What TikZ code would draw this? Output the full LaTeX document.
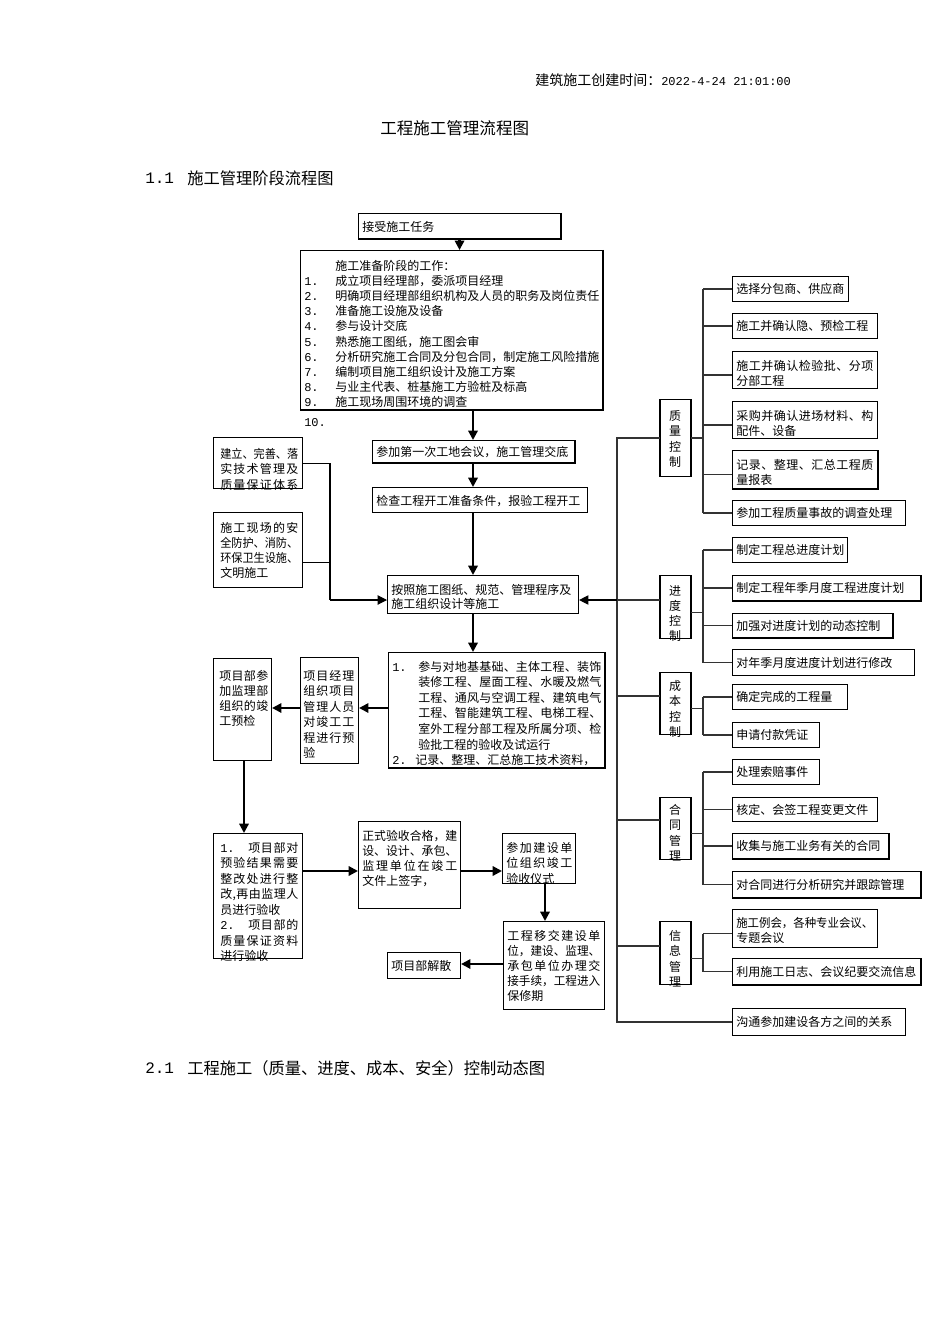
\documentclass[tikz,border=0pt]{standalone}
\usepackage{fontspec}
\usepackage{graphicx}
\setmainfont{Noto Sans CJK SC}
\newfontfamily\mono{Liberation Mono}
\usetikzlibrary{arrows.meta,calc}
\newdimen\pxu \pxu=0.75pt
\newsavebox\sprbox
\def\sprloop#1#2{#1\ifx\relax#2\else\hfill\expandafter\sprloop\expandafter#2\fi}
\newcommand\sprd[2]{\sbox\sprbox{#2}\ifdim\wd\sprbox>#1\pxu\relax\resizebox{#1\pxu}{\height}{\usebox\sprbox}\else\makebox[#1\pxu][s]{\sprloop#2\relax}\fi}
\newcommand\fsz{\fontsize{9pt}{11pt}\selectfont}
\newcommand\mkbox[5]{\node[bx, minimum width={(#4-#2)*0.75pt}, minimum height={(#5-#3)*0.75pt}] (#1) at (#2,#3) {};}
\newcommand\txl[6][]{\foreach \tline [count=\tidx from 0] in {#6}{\node[tx,#1] (#2-\tidx) at (#3,{#4+\tidx*#5}) {\tline};}}
\newcommand\vtx[4]{\foreach \tline [count=\tidx from 0] in {#4}{\node[tx,anchor=center] (#1-\tidx) at (675,{#2+\tidx*#3}) {\tline};}}
\newcommand\shd[1]{\draw[shd] (#1.north east) -- (#1.south east) -- (#1.south west);}
\newcommand\sides[1]{\draw[shd] (#1.north east) -- (#1.south east); \draw[shd] (#1.north west) -- (#1.south west);}
\begin{document}
\begin{tikzpicture}[x=0.75pt,y=-0.75pt,
  bx/.style={draw=black, line width=0.8pt, inner sep=0pt, anchor=north west, fill=white},
  tx/.style={inner sep=0pt, anchor=west, text height=0.88em, text depth=0.12em, font=\fsz},
  num/.style={font=\fsz\mono},
  arr/.style={line width=1.6pt, -{Triangle[length=7pt,width=7pt]}},
  tarr/.style={line width=0.8pt, -{Triangle[length=7pt,width=7pt]}},
  tline/.style={line width=0.8pt},
  tree/.style={line width=0.9pt, draw=black!80},
  shd/.style={line width=1.8pt}]
\useasboundingbox (0,0) rectangle (950,1344);
\fill[white] (0,0) rectangle (950,1344);

% headings
\node[inner sep=0pt, anchor=west, font=\fontsize{10.5pt}{12pt}\selectfont] (hdr) at (535,80) {建筑施工创建时间：{\mono\fontsize{9pt}{10pt}\selectfont 2022-4-24 21:01:00}};
\node[inner sep=0pt, anchor=west, font=\fontsize{12.4pt}{14pt}\selectfont] (title) at (380,128) {工程施工管理流程图};
\node[inner sep=0pt, anchor=west, font=\mono\fontsize{12pt}{14pt}\selectfont] (s11) at (145,178) {1.1};
\node[inner sep=0pt, anchor=west, font=\fontsize{12.2pt}{14pt}\selectfont] (s11t) at (187,178) {施工管理阶段流程图};
\node[inner sep=0pt, anchor=west, font=\mono\fontsize{12pt}{14pt}\selectfont] (s21) at (145,1068) {2.1};
\node[inner sep=0pt, anchor=west, font=\fontsize{12.2pt}{14pt}\selectfont] (s21t) at (187,1068) {工程施工（质量、进度、成本、安全）控制动态图};

% middle boxes
\mkbox{A}{358}{213}{560}{238}
\mkbox{B}{300}{250}{602}{409}
\mkbox{C}{372}{440}{574}{462}
\mkbox{D}{372}{487}{587}{512}
\mkbox{E}{387}{575}{578}{613}
\mkbox{L1}{213}{437}{302}{488}
\mkbox{L2}{213}{512}{302}{587}
\mkbox{F}{388}{652}{604}{767}
\mkbox{G}{300}{657}{358}{763}
\mkbox{H}{213}{658}{271}{760}
\mkbox{I}{213}{833}{302}{958}
\mkbox{J}{358}{821}{460}{908}
\mkbox{K}{502}{833}{575}{883}
\mkbox{M}{503}{921}{604}{1009}
\mkbox{N}{387}{952}{460}{978}

% right boxes
\mkbox{Q}{660}{399}{690}{476}
\mkbox{P}{660}{575}{690}{638}
\mkbox{Cb}{660}{672}{690}{734}
\mkbox{Hc}{660}{797}{690}{859}
\mkbox{If}{660}{921}{690}{984}
\mkbox{q1}{732}{276}{848}{301}
\mkbox{q2}{732}{313}{877}{338}
\mkbox{q3}{732}{351}{877}{388}
\mkbox{q4}{732}{401}{877}{438}
\mkbox{q5}{732}{450}{877}{488}
\mkbox{q6}{732}{500}{905}{525}
\mkbox{p1}{732}{537}{847}{562}
\mkbox{p2}{732}{575}{920}{600}
\mkbox{p3}{732}{613}{892}{637}
\mkbox{p4}{732}{649}{914}{675}
\mkbox{c1}{732}{684}{847}{709}
\mkbox{c2}{732}{722}{819}{747}
\mkbox{h1}{732}{759}{819}{784}
\mkbox{h2}{732}{797}{877}{821}
\mkbox{h3}{732}{833}{888}{858}
\mkbox{h4}{732}{871}{920}{897}
\mkbox{i1}{732}{909}{877}{947}
\mkbox{i2}{732}{958}{920}{984}
\mkbox{g}{732}{1008}{905}{1035}

\foreach \n in {A,B,C,F,p2,p3,h3,h4,i2,q5} {\shd{\n}}
\foreach \n in {Q,P,Cb,Hc,If} {\sides{\n}}

% texts middle
\txl{At}{362}{226}{0}{接受施工任务}
\txl{Bt}{335}{265.5}{15.1}{施工准备阶段的工作：, 成立项目经理部，委派项目经理, 明确项目经理部组织机构及人员的职务及岗位责任, 准备施工设施及设备, 参与设计交底, 熟悉施工图纸，施工图会审, 分析研究施工合同及分包合同，制定施工风险措施, 编制项目施工组织设计及施工方案, 与业主代表、桩基施工方验桩及标高, 施工现场周围环境的调查}
\txl[num]{Bn}{304}{280.6}{15.1}{1.,2.,3.,4.,5.,6.,7.,8.,9.}
\node[tx,num] (B10) at (304,421) {10.};
\txl{Ct}{376}{451}{0}{参加第一次工地会议，施工管理交底}
\txl{Dt}{376}{500}{0}{检查工程开工准备条件，报验工程开工}
\txl{Et}{391}{589}{14}{按照施工图纸、规范、管理程序及, 施工组织设计等施工}
\txl{L1t}{220}{453}{15.5}{\sprd{78}{建立、完善、落}, \sprd{78}{实技术管理及}, \sprd{78}{质量保证体系}}
\txl{L2t}{220}{527}{15.3}{\sprd{78}{施工现场的安}, \sprd{78}{全防护、消防、}, \sprd{78}{环保卫生设施、}, 文明施工}
\node[tx,num] (Fn1) at (392,666) {1.};
\txl{Ft}{418}{666}{15.6}{\sprd{183}{参与对地基基础、主体工程、装饰}, \sprd{183}{装修工程、屋面工程、水暖及燃气}, \sprd{183}{工程、通风与空调工程、建筑电气}, \sprd{183}{工程、智能建筑工程、电梯工程、}, \sprd{183}{室外工程分部工程及所属分项、检}, 验批工程的验收及试运行}
\node[tx,num] (Fn2) at (392,759.6) {2.};
\node[tx] (Ft2) at (415,759.6) {记录、整理、汇总施工技术资料，};
\txl{Gt}{303}{675}{15.5}{\sprd{51}{项目经理}, \sprd{51}{组织项目}, \sprd{51}{管理人员}, \sprd{51}{对竣工工}, \sprd{51}{程进行预}, 验}
\txl{Ht}{219}{675}{15.3}{\sprd{49}{项目部参}, \sprd{49}{加监理部}, \sprd{49}{组织的竣}, 工预检}
\txl{It}{220}{847}{15.5}{\makebox[78\pxu]{{\mono 1.}\hfill\sprd{50}{项目部对}}, \sprd{78}{预验结果需要}, \sprd{78}{整改处进行整}, \sprd{78}{改,再由监理人}, 员进行验收, \makebox[78\pxu]{{\mono 2.}\hfill\sprd{50}{项目部的}}, \sprd{78}{质量保证资料}, 进行验收}
\txl{Jt}{362}{835}{15}{\sprd{95}{正式验收合格，建}, \sprd{95}{设、设计、承包、}, \sprd{95}{监理单位在竣工}, 文件上签字，}
\txl{Kt}{506}{847}{15.5}{\sprd{66}{参加建设单}, \sprd{66}{位组织竣工}, 验收仪式}
\txl{Mt}{507}{935}{15}{\sprd{93}{工程移交建设单}, \sprd{93}{位，建设、监理、}, \sprd{93}{承包单位办理交}, \sprd{93}{接手续，工程进入}, 保修期}
\txl{Nt}{391}{965}{0}{项目部解散}

% texts right
\vtx{Qt}{415}{15.5}{质,量,控,制}
\vtx{Pt}{590}{15}{进,度,控,制}
\vtx{Cbt}{685}{15.5}{成,本,控,制}
\vtx{Hct}{809}{15.5}{合,同,管,理}
\vtx{Ift}{935}{15.5}{信,息,管,理}
\txl{q1t}{736}{288.5}{0}{选择分包商、供应商}
\txl{q2t}{736}{325.5}{0}{施工并确认隐、预检工程}
\txl{q3t}{736}{365}{15}{\sprd{137}{施工并确认检验批、分项}, 分部工程}
\txl{q4t}{736}{415}{15}{\sprd{137}{采购并确认进场材料、构}, 配件、设备}
\txl{q5t}{736}{464}{15}{\sprd{137}{记录、整理、汇总工程质}, 量报表}
\txl{q6t}{736}{512.5}{0}{参加工程质量事故的调查处理}
\txl{p1t}{736}{549.5}{0}{制定工程总进度计划}
\txl{p2t}{736}{587.5}{0}{制定工程年季月度工程进度计划}
\txl{p3t}{736}{625}{0}{加强对进度计划的动态控制}
\txl{p4t}{736}{662}{0}{对年季月度进度计划进行修改}
\txl{c1t}{736}{696.5}{0}{确定完成的工程量}
\txl{c2t}{736}{734.5}{0}{申请付款凭证}
\txl{h1t}{736}{771.5}{0}{处理索赔事件}
\txl{h2t}{736}{809}{0}{核定、会签工程变更文件}
\txl{h3t}{736}{845.5}{0}{收集与施工业务有关的合同}
\txl{h4t}{736}{884}{0}{对合同进行分析研究并跟踪管理}
\txl{i1t}{736}{922}{15.5}{\sprd{137}{施工例会，各种专业会议、}, 专题会议}
\txl{i2t}{736}{971}{0}{利用施工日志、会议纪要交流信息}
\txl{gt}{736}{1021.5}{0}{沟通参加建设各方之间的关系}

% coordinates
\coordinate (mx) at (473,0);
\coordinate (r1) at (0,708);
\coordinate (cx) at (244,0);
\coordinate (r2) at (0,871);
\coordinate (kx) at (545,0);
\coordinate (r3) at (0,964);
\coordinate (lj) at (330,0);
\coordinate (ey) at (0,600);
\coordinate (ml) at (617,0);
\coordinate (sp) at (703,0);
\coordinate (jE) at (617,600);
\coordinate (jC) at (617,696);
\coordinate (jH) at (617,820);
\coordinate (jI) at (617,946);

% middle arrows
\draw[arr] (A.south) -- (A.south |- B.north);
\draw[arr] (mx |- B.south) -- (mx |- C.north);
\draw[arr] (mx |- C.south) -- (mx |- D.north);
\draw[arr] (mx |- D.south) -- (mx |- E.north);
\draw[arr] (mx |- E.south) -- (mx |- F.north);
\draw[arr] (F.west |- r1) -- (G.east |- r1);
\draw[arr] (G.west |- r1) -- (H.east |- r1);
\draw[arr] (cx |- H.south) -- (cx |- I.north);
\draw[arr] (I.east |- r2) -- (J.west |- r2);
\draw[arr] (J.east |- r2) -- (K.west |- r2);
\draw[arr] (kx |- K.south) -- (kx |- M.north);
\draw[arr] (M.west |- r3) -- (N.east |- r3);

% left joins
\path ($(L2.east)+(0,12)$) coordinate (L2j);
\draw[tline] (L1.east) -| (lj |- ey);
\draw[tarr] (lj |- ey) -- (E.west |- ey);
\draw[tline] (L2j) -- (L2j -| lj);

% right tree
\draw[tree] (Q.west) -- (Q.west -| ml) -- (ml |- g.west) -- (g.west);
\draw[tarr] (jE) -- (E.east |- jE);
\draw[tree] (jE) -- (jE -| P.west);
\draw[tree] (jC) -- (jC -| Cb.west);
\draw[tree] (jH) -- (jH -| Hc.west);
\draw[tree] (jI) -- (jI -| If.west);

% quality subtree
\draw[tree] (Q.east) -- (Q.east -| sp);
\path ($(q3.west)+(0,5)$) coordinate (q3b);
\path ($(q4.west)+(0,5)$) coordinate (q4b);
\path ($(q5.west)+(0,5)$) coordinate (q5b);
\draw[tree] (q1.west -| sp) -- (q6.west -| sp);
\foreach \n in {q1,q2,q6} {\draw[tree] (\n.west -| sp) -- (\n.west);}
\foreach \n in {q3b,q4b,q5b} {\draw[tree] (\n -| sp) -- (\n);}

% progress subtree
\path ($(P.east)+(0,5.5)$) coordinate (Pr);
\draw[tree] (Pr) -- (Pr -| sp);
\draw[tree] (p1.west -| sp) -- (p4.west -| sp);
\foreach \n in {p1,p2,p3,p4} {\draw[tree] (\n.west -| sp) -- (\n.west);}

% cost subtree
\path ($(Cb.east)+(0,5)$) coordinate (Cr);
\draw[tree] (Cr) -- (Cr -| sp);
\draw[tree] (c1.west -| sp) -- (c2.west -| sp);
\foreach \n in {c1,c2} {\draw[tree] (\n.west -| sp) -- (\n.west);}

% contract subtree
\path ($(Hc.east)+(0,5)$) coordinate (Hr);
\draw[tree] (Hr) -- (Hr -| sp);
\draw[tree] (h1.west -| sp) -- (h4.west -| sp);
\foreach \n in {h1,h2,h3,h4} {\draw[tree] (\n.west -| sp) -- (\n.west);}

% info subtree
\path ($(If.east)+(0,5.5)$) coordinate (Ir);
\path ($(i1.west)+(0,5)$) coordinate (i1b);
\draw[tree] (Ir) -- (Ir -| sp);
\draw[tree] (i1b -| sp) -- (i2.west -| sp);
\draw[tree] (i1b -| sp) -- (i1b);
\draw[tree] (i2.west -| sp) -- (i2.west);
\end{tikzpicture}
\end{document}
